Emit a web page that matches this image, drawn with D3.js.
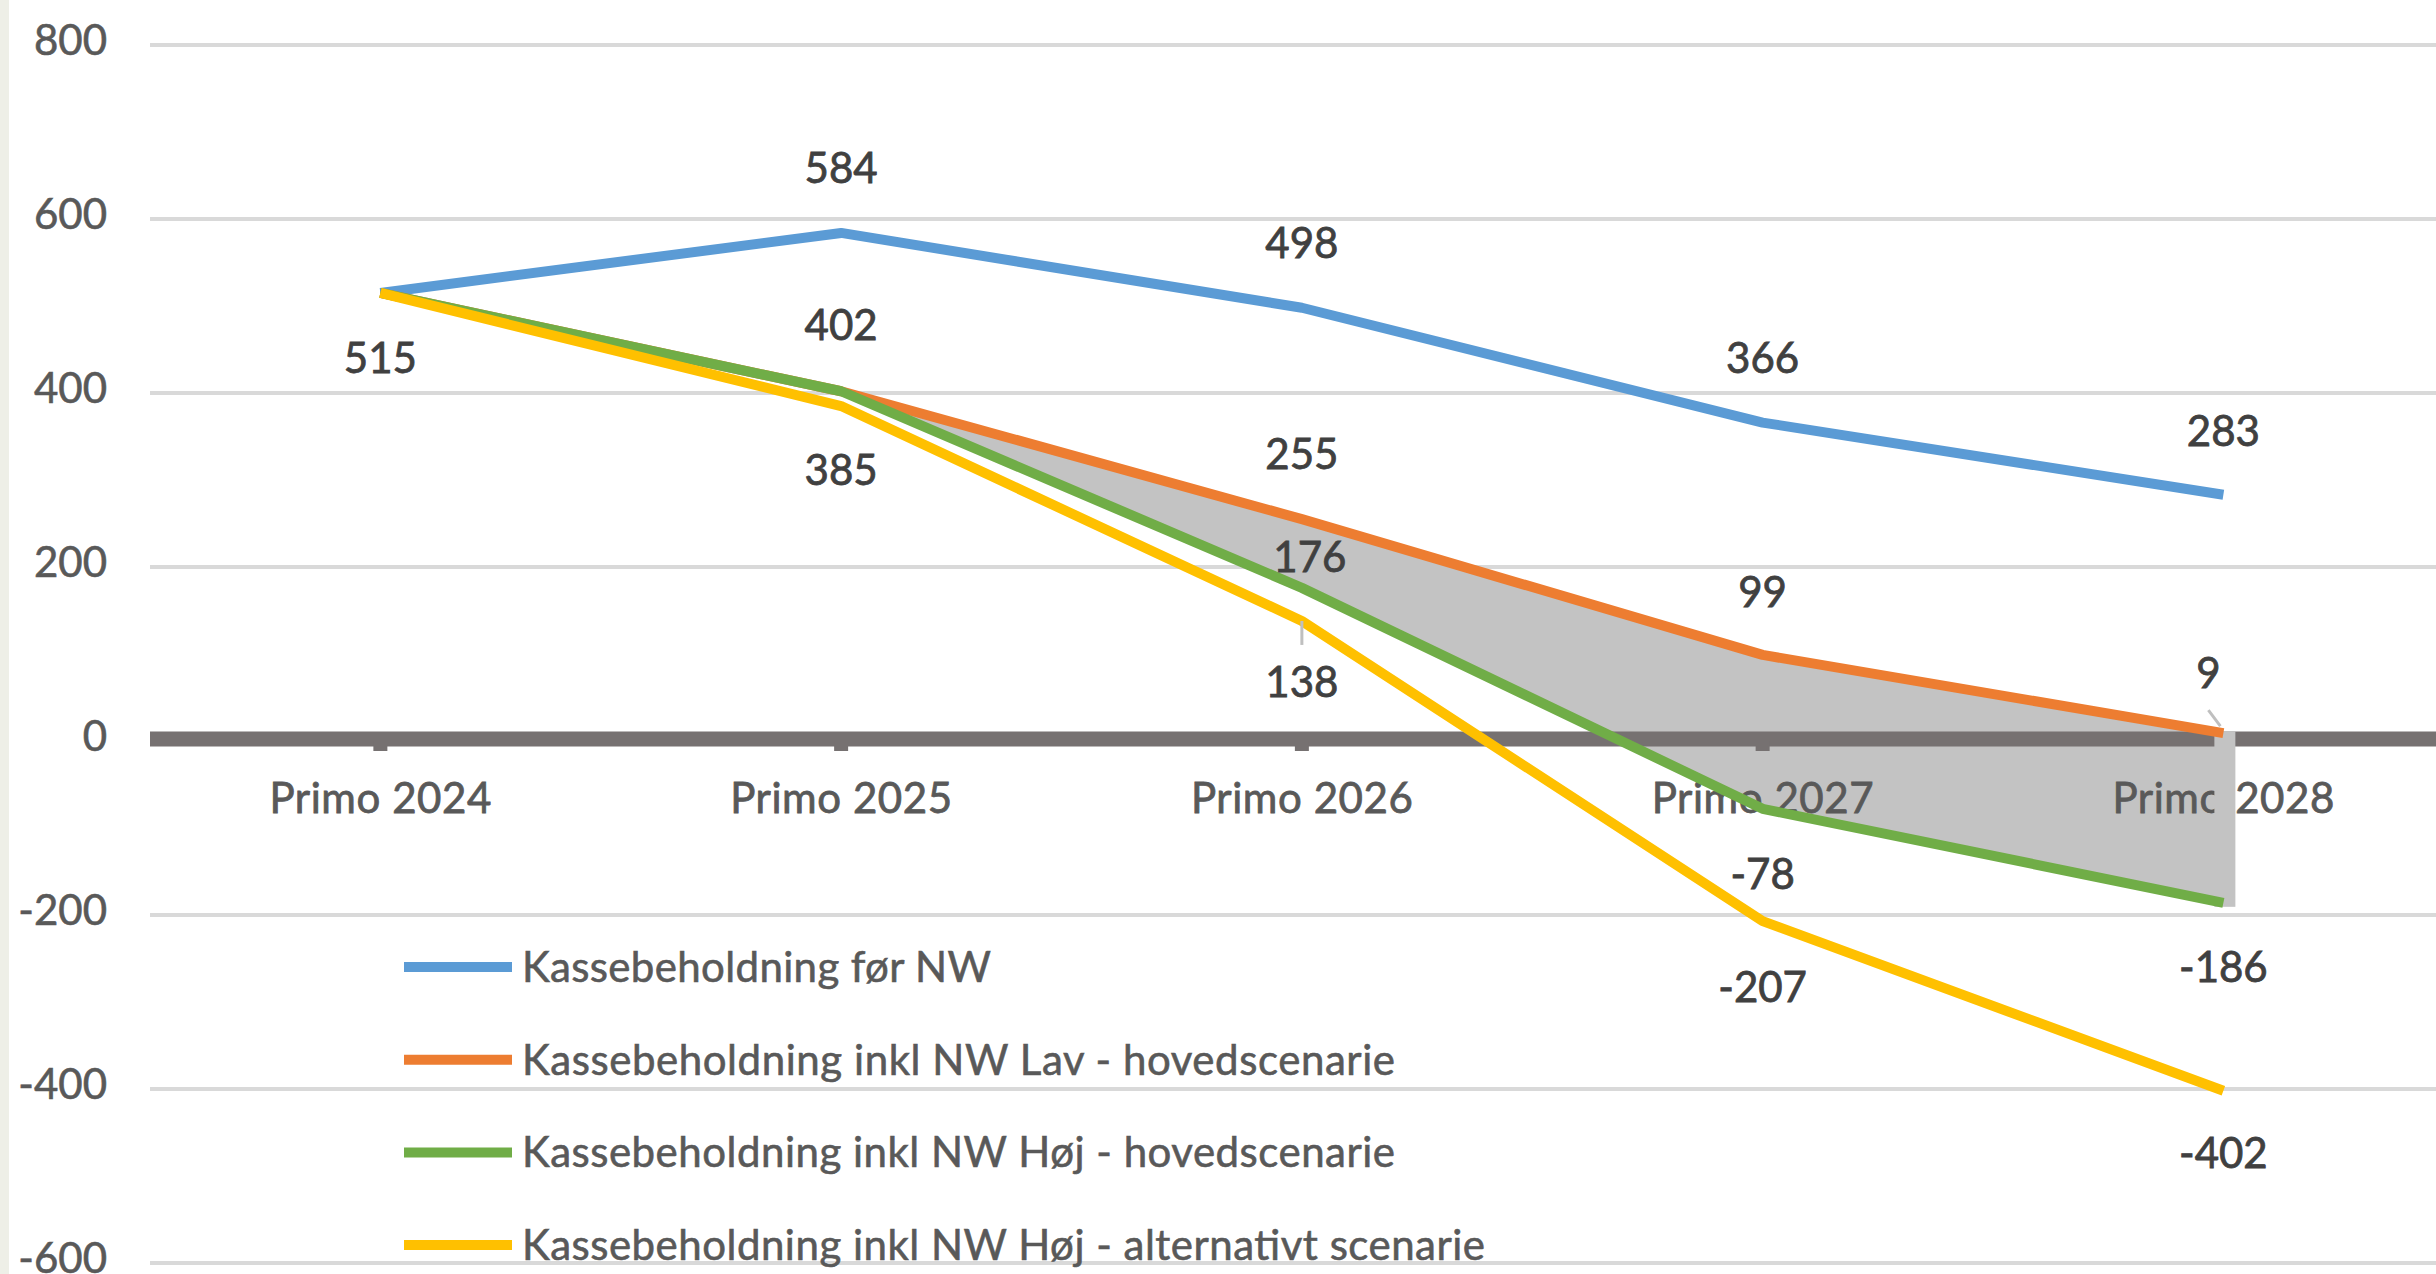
<!DOCTYPE html>
<html>
<head>
<meta charset="utf-8">
<script src="https://cdn.jsdelivr.net/npm/d3@7"></script>
<style>
  body { margin: 0; background: #fff; }
  text { font-family: Lato, "Open Sans", sans-serif; }
</style>
</head>
<body>
<script>
const categories = ["Primo 2024", "Primo 2025", "Primo 2026", "Primo 2027", "Primo 2028"];
const seriesNames = [
  "Kassebeholdning før NW",
  "Kassebeholdning inkl NW Lav - hovedscenarie",
  "Kassebeholdning inkl NW Høj - hovedscenarie",
  "Kassebeholdning inkl NW Høj - alternativt scenarie"
];
const forNW    = [515, 584, 498, 366, 283];
const lavHoved = [515, 402, 255, 99, 9];
const hojHoved = [515, 402, 176, -78, -186];
const hojAlt   = [515, 385, 138, -207, -402];
const yTicks = [800, 600, 400, 200, 0, -200, -400, -600];

const w = 2436;
const h = 1274;
const colors = ["#5b9bd5", "#ed7d31", "#70ad47", "#ffc000"];
const allSeries = [forNW, lavHoved, hojHoved, hojAlt];

// label placement per point: null = no label, number = offset of label centre from point
const labelOffsets = [
  [null, -65, -65, -65, -64],
  [null, -66, -65, -63, -60],
  [null, null, -31, 65, 64],
  [65, 64, 61, 66, 62]
];
const labelShiftX = [
  [0, 0, 0, 0, 0],
  [0, 0, 0, 0, -15],
  [0, 0, 8, 0, 0],
  [0, 0, 0, 0, 0]
];
const legendWidths = [469, 873, 873, 963];

const svg = d3.select("body")
  .append("svg")
  .attr("width", w)
  .attr("height", h);

svg.append("rect")
  .attr("x", 0).attr("y", 0)
  .attr("width", 9).attr("height", h)
  .attr("fill", "#eeefe7");

const x = d3.scaleBand()
  .domain(categories)
  .range([150, 150 + 5 * 460.75]);
const cx = (i) => x(categories[i]) + x.bandwidth() / 2;

const y = d3.scaleLinear()
  .domain([-600, 800])
  .range([1263, 45]);

// gridlines
svg.append("g")
  .selectAll("line")
  .data(yTicks.filter(d => d !== 0))
  .enter()
  .append("line")
  .attr("x1", 150)
  .attr("x2", w)
  .attr("y1", d => y(d))
  .attr("y2", d => y(d))
  .attr("stroke", "#d9d9d9")
  .attr("stroke-width", 4);

// y axis labels
const yAxis = d3.axisLeft(y)
  .tickValues(yTicks)
  .tickSize(0)
  .tickPadding(0)
  .tickFormat(d => String(d));
const gy = svg.append("g")
  .attr("transform", "translate(107,0)")
  .call(yAxis);
gy.select(".domain").remove();
gy.selectAll("text")
  .attr("font-family", "Lato, sans-serif")
  .attr("font-size", 42)
  .attr("fill", "#595959")
  .attr("stroke", "#595959")
  .attr("stroke-width", 0.6)
  .attr("dy", "0.22em");

// shaded range between Lav and Høj hovedscenarie
const idx = d3.range(1, categories.length);
const area = d3.area()
  .x(i => cx(i))
  .y0(i => y(hojHoved[i]))
  .y1(i => y(lavHoved[i]));
svg.append("path")
  .datum(idx)
  .attr("d", area)
  .attr("fill", "#c3c3c3");

// zero line + ticks
svg.append("line")
  .attr("x1", 150).attr("x2", w)
  .attr("y1", y(0) - 2).attr("y2", y(0) - 2)
  .attr("stroke", "#767171")
  .attr("stroke-width", 15);
svg.append("g")
  .selectAll("line")
  .data(categories)
  .enter()
  .append("line")
  .attr("x1", (d, i) => cx(i))
  .attr("x2", (d, i) => cx(i))
  .attr("y1", y(0))
  .attr("y2", y(0) + 10)
  .attr("stroke", "#767171")
  .attr("stroke-width", 14);

// category labels
svg.append("g")
  .selectAll("text")
  .data(categories)
  .enter()
  .append("text")
  .attr("x", (d, i) => cx(i))
  .attr("y", 813)
  .attr("text-anchor", "middle")
  .attr("font-size", 42)
  .attr("textLength", 222)
  .attr("lengthAdjust", "spacing")
  .attr("fill", "#595959")
  .attr("stroke", "#595959")
  .attr("stroke-width", 0.8)
  .text(d => d);

const last = categories.length - 1;
svg.append("rect")
  .attr("x", cx(last) - 9)
  .attr("y", y(lavHoved[last]) - 2)
  .attr("width", 21)
  .attr("height", y(hojHoved[last]) - y(lavHoved[last]) + 6)
  .attr("fill", "#c3c3c3");

// series lines
const line = d3.line()
  .x((d, i) => cx(i))
  .y(d => y(d));
svg.append("g")
  .selectAll("path")
  .data(allSeries)
  .enter()
  .append("path")
  .attr("d", line)
  .attr("fill", "none")
  .attr("stroke", (d, i) => colors[i])
  .attr("stroke-width", 10)
  .attr("stroke-linejoin", "round");

// leader lines
svg.append("line")
  .attr("x1", cx(2)).attr("x2", cx(2))
  .attr("y1", y(hojAlt[2])).attr("y2", y(hojAlt[2]) + 24)
  .attr("stroke", "#bfbfbf").attr("stroke-width", 3);
svg.append("line")
  .attr("x1", cx(4) - 15).attr("x2", cx(4) - 3)
  .attr("y1", y(lavHoved[4]) - 23).attr("y2", y(lavHoved[4]) - 7)
  .attr("stroke", "#bfbfbf").attr("stroke-width", 3);

// legend
const legend = svg.selectAll(".legend")
  .data(seriesNames)
  .enter()
  .append("g")
  .attr("class", "legend")
  .attr("transform", (d, i) => "translate(404," + (967 + i * 92.7) + ")");
legend.append("line")
  .attr("x1", 0).attr("x2", 108)
  .attr("stroke", (d, i) => colors[i])
  .attr("stroke-width", 10);
legend.append("text")
  .attr("x", 118)
  .attr("y", 15)
  .attr("font-size", 42)
  .attr("textLength", (d, i) => legendWidths[i])
  .attr("lengthAdjust", "spacing")
  .attr("fill", "#595959")
  .attr("stroke", "#595959")
  .attr("stroke-width", 0.6)
  .text(d => d);

// data labels
allSeries.forEach((s, si) => {
  svg.append("g")
    .selectAll("text")
    .data(s.map((v, i) => ({ v, i })).filter(d => labelOffsets[si][d.i] !== null))
    .enter()
    .append("text")
    .attr("x", d => cx(d.i) + labelShiftX[si][d.i])
    .attr("y", d => y(d.v) + labelOffsets[si][d.i] + 15)
    .attr("text-anchor", "middle")
    .attr("font-size", 42)
    .attr("fill", "#404040")
    .attr("stroke", "#404040")
    .attr("stroke-width", 0.8)
    .text(d => d.v);
});
</script>
</body>
</html>
